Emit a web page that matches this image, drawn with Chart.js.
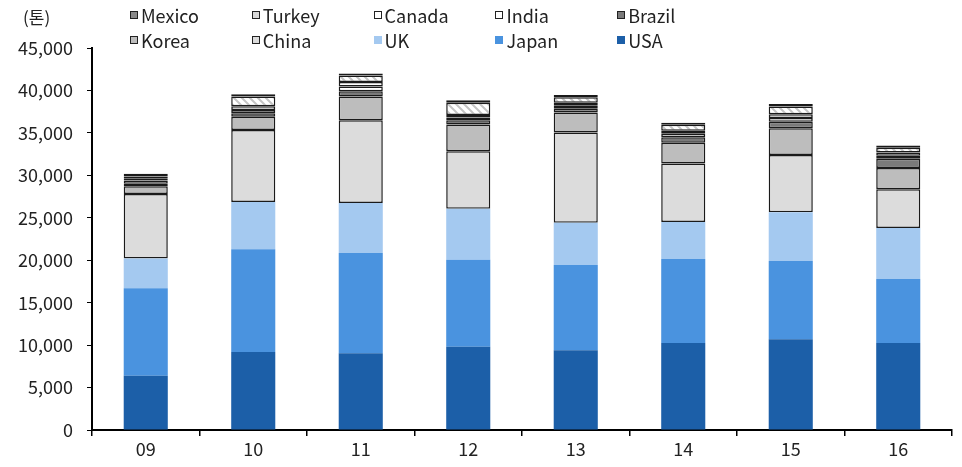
<!DOCTYPE html>
<html>
<head>
<meta charset="utf-8">
<script src="https://cdn.jsdelivr.net/npm/chart.js@4.4.1/dist/chart.umd.min.js"></script>
<style>
  body { margin: 0; background: #fff; }
  #wrap { position: relative; width: 962px; height: 467px; }
  #unit { position: absolute; left: 23px; top: 4px; font: 17px "Noto Sans CJK KR", sans-serif; color: #222; }
  #legend { position: absolute; left: 130px; top: 4px; display: grid; grid-template-columns: repeat(5, 121.8px); row-gap: 3px; font: 18px "Noto Sans CJK KR", sans-serif; color: #222; }
  .item { display: flex; align-items: center; height: 22px; white-space: nowrap; }
  .box { width: 8px; height: 8px; margin-right: 3px; box-sizing: border-box; }
</style>
</head>
<body>
<div id="wrap">
  <canvas id="grafico" width="962" height="467"></canvas>
  <div id="unit">(톤)</div>
  <div id="legend"></div>
</div>
<script>
// anos (eixo x)
var anos = ['09', '10', '11', '12', '13', '14', '15', '16'];

// valores por país (toneladas), de baixo para cima
var usa    = [6400, 9200, 9050, 9800, 9400, 10250, 10700, 10250];
var japan  = [10300, 12100, 11800, 10250, 10050, 9900, 9200, 7550];
var uk     = [3500, 5550, 5900, 6000, 4950, 4350, 5750, 6000];
var china  = [7600, 8500, 9750, 6800, 10650, 6900, 6750, 4550];
var korea  = [900, 1550, 2800, 3150, 2350, 2450, 3150, 2500];
var brazil = [300, 400, 600, 500, 450, 650, 750, 1100];
var india  = [400, 400, 550, 300, 350, 400, 450, 350];
var canada = [250, 450, 550, 300, 350, 350, 450, 400];
var turkey = [200, 1150, 750, 1450, 650, 700, 900, 550];
var mexico = [350, 250, 250, 300, 250, 250, 300, 250];

var yMax = 45000;
var yStep = 5000;

// padrão hachurado para a Turquia
function hachura() {
    var c = document.createElement('canvas');
    c.width = 8; c.height = 8;
    var g = c.getContext('2d');
    g.fillStyle = '#fff';
    g.fillRect(0, 0, 8, 8);
    g.strokeStyle = '#c4c4c4';
    g.lineWidth = 2;
    g.beginPath();
    g.moveTo(-2, -2); g.lineTo(10, 10);
    g.moveTo(-2, 6); g.lineTo(2, 10);
    g.moveTo(6, -2); g.lineTo(10, 2);
    g.stroke();
    return g.createPattern(c, 'repeat');
}

document.addEventListener('DOMContentLoaded', function () {
    var ctx = document.getElementById('grafico').getContext('2d');

    function serie(nome, dados, cor, legenda, borda) {
        return {
            label: nome,
            data: dados,
            backgroundColor: cor,
            borderColor: '#1a1a1a',
            borderWidth: borda ? 1.5 : 0,
            borderSkipped: false,
            legendColor: legenda || cor,
            legendBorder: borda
        };
    }

    var series = [
        serie('USA', usa, '#1c5fa8', null, false),
        serie('Japan', japan, '#4a93df', null, false),
        serie('UK', uk, '#a4c9f0', null, false),
        serie('China', china, '#dcdcdc', null, true),
        serie('Korea', korea, '#bdbdbd', null, true),
        serie('Brazil', brazil, '#7a7a7a', null, true),
        serie('India', india, '#ffffff', null, true),
        serie('Canada', canada, '#ffffff', null, true),
        serie('Turkey', turkey, hachura(), '#d8d8d8', true),
        serie('Mexico', mexico, '#555555', '#8a8a8a', true)
    ];

    new Chart(ctx, {
        type: 'bar',
        data: { labels: anos, datasets: series },
        options: {
            responsive: false,
            animation: false,
            layout: { padding: { top: 48, right: 10, left: 0, bottom: 0 } },
            plugins: { legend: { display: false }, tooltip: { enabled: false } },
            datasets: { bar: { barPercentage: 0.41, categoryPercentage: 1 } },
            scales: {
                x: {
                    stacked: true,
                    offset: true,
                    border: { color: '#000', width: 2 },
                    grid: { offset: true, drawOnChartArea: false, drawTicks: true, tickLength: 6, color: '#000', lineWidth: 1.5 },
                    ticks: { color: '#222', font: { family: 'Noto Sans CJK KR', size: 18 }, padding: 2 },
                    afterFit: function (s) { s.height = 37; }
                },
                y: {
                    stacked: true,
                    min: 0,
                    max: yMax,
                    border: { color: '#000', width: 2 },
                    grid: { drawOnChartArea: false, drawTicks: true, tickLength: 5, color: '#000', lineWidth: 1 },
                    ticks: {
                        stepSize: yStep,
                        color: '#222',
                        font: { family: 'Noto Sans CJK KR', size: 18 },
                        padding: 14,
                        callback: function (v) { return v.toLocaleString('en-US'); }
                    },
                    afterFit: function (s) { s.width = 92; }
                }
            }
        }
    });

    // legenda em 2 linhas x 5 colunas (ordem inversa)
    var leg = document.getElementById('legend');
    series.slice().reverse().forEach(function (d) {
        var it = document.createElement('div');
        it.className = 'item';
        var b = document.createElement('span');
        b.className = 'box';
        b.style.background = d.legendColor;
        if (d.legendBorder) b.style.border = '1.5px solid #222';
        it.appendChild(b);
        it.appendChild(document.createTextNode(d.label));
        leg.appendChild(it);
    });
});
</script>
</body>
</html>
